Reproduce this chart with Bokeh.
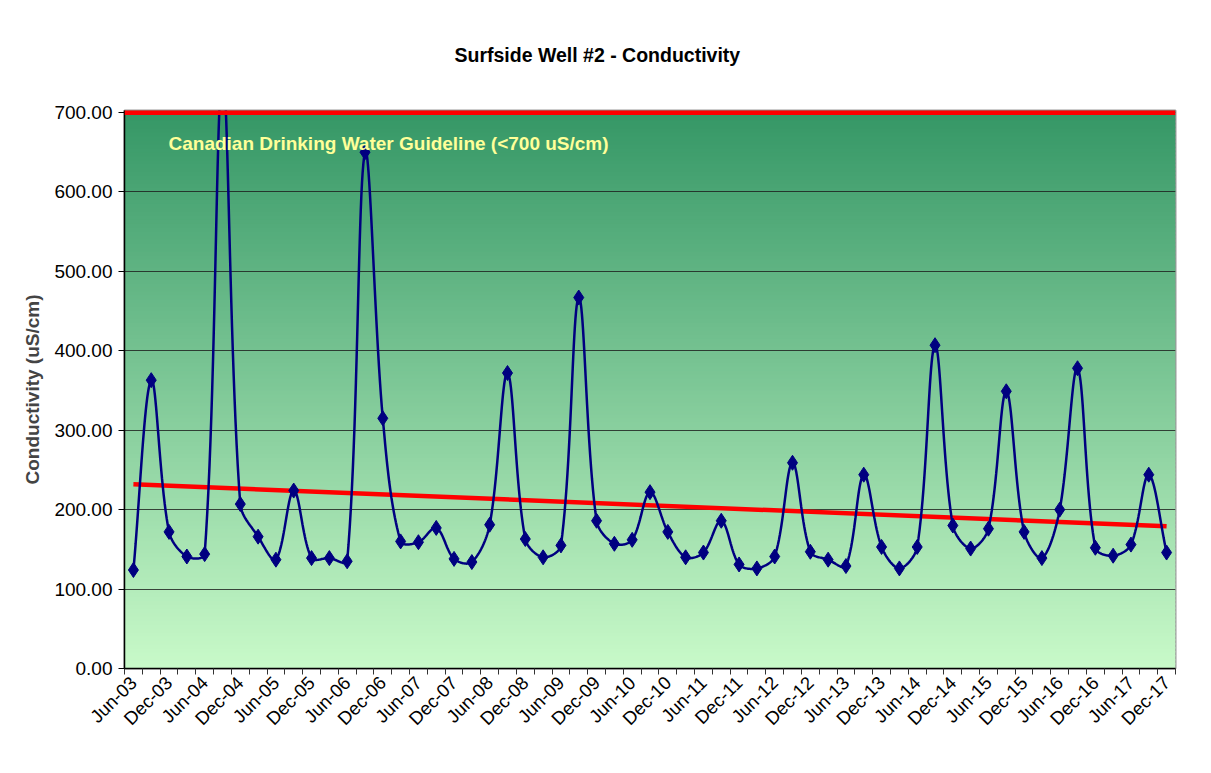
import numpy as np
from bokeh.plotting import figure
from bokeh.models import Range1d, FixedTicker, NumeralTickFormatter, Span, Label
from bokeh.embed import file_html
from bokeh.resources import INLINE

# ---- data ----
quarters = [
    "Jun-03", "Sep-03", "Dec-03",
    "Mar-04", "Jun-04", "Sep-04", "Dec-04",
    "Mar-05", "Jun-05", "Sep-05", "Dec-05",
    "Mar-06", "Jun-06", "Sep-06", "Dec-06",
    "Mar-07", "Jun-07", "Sep-07", "Dec-07",
    "Mar-08", "Jun-08", "Sep-08", "Dec-08",
    "Mar-09", "Jun-09", "Sep-09", "Dec-09",
    "Mar-10", "Jun-10", "Sep-10", "Dec-10",
    "Mar-11", "Jun-11", "Sep-11", "Dec-11",
    "Mar-12", "Jun-12", "Sep-12", "Dec-12",
    "Mar-13", "Jun-13", "Sep-13", "Dec-13",
    "Mar-14", "Jun-14", "Sep-14", "Dec-14",
    "Mar-15", "Jun-15", "Sep-15", "Dec-15",
    "Mar-16", "Jun-16", "Sep-16", "Dec-16",
    "Mar-17", "Jun-17", "Sep-17", "Dec-17",
]
conductivity = [
    124, 363, 172,
    141, 144, 750, 207,
    166, 137, 224, 139,
    139, 135, 650, 315,
    160, 159, 177, 138,
    134, 181, 372, 163,
    140, 155, 467, 186,
    157, 162, 222, 172,
    140, 146, 186, 131,
    126, 141, 259, 147,
    137, 129, 244, 153,
    126, 153, 407, 180,
    151, 176, 349, 172,
    139, 200, 378, 152,
    142, 156, 244, 146,
]
guideline = 700
trend_start, trend_end = 232, 179
yticks = [0, 100, 200, 300, 400, 500, 600, 700]

n = len(quarters)
xs = np.arange(n, dtype=float)
ys = np.array(conductivity, dtype=float)

# plot geometry (pixels)
W, H = 1195, 757
LEFT, RIGHT, TOP, BOTTOM = 124, W - 1175, 110, H - 668
YMAX = 702.5
XPX = (1175 - 124) / n
YPX = (668 - 110) / YMAX


def excel_smooth(x, y, steps=24):
    P = np.column_stack([x * XPX, y * YPX])
    out = [P[0]]
    m = len(P)
    for i in range(m - 1):
        p0 = P[i - 1] if i > 0 else P[i]
        p1 = P[i]
        p2 = P[i + 1]
        p3 = P[i + 2] if i + 2 < m else P[i + 1]
        d01 = np.hypot(*(p1 - p0))
        d12 = np.hypot(*(p2 - p1))
        d23 = np.hypot(*(p3 - p2))
        f1 = d12 / (d01 + d12) / 3.0 if (d01 + d12) > 0 else 0
        f2 = d12 / (d12 + d23) / 3.0 if (d12 + d23) > 0 else 0
        c1 = p1 + (p2 - p0) * f1
        c2 = p2 - (p3 - p1) * f2
        t = np.linspace(0, 1, steps + 1)[1:][:, None]
        seg = ((1 - t) ** 3) * p1 + 3 * ((1 - t) ** 2) * t * c1 + 3 * (1 - t) * t ** 2 * c2 + t ** 3 * p2
        out.extend(seg)
    out = np.array(out)
    return out[:, 0] / XPX, out[:, 1] / YPX


sx, sy = excel_smooth(xs, ys)

FONT = "Liberation Sans"

p = figure(width=W, height=H, output_backend="svg", toolbar_location=None,
           x_range=Range1d(-0.5, n - 0.5), y_range=Range1d(0, YMAX),
           min_border_left=LEFT, min_border_right=RIGHT, min_border_top=TOP, min_border_bottom=BOTTOM)
p.title.text = "Surfside Well #2 - Conductivity"
p.title.align = "left"
p.title.vertical_align = "top"
p.title.text_font = FONT
p.title.text_font_style = "bold"
p.title.text_font_size = "19.5px"
p.title.text_color = "black"
p.title.standoff = 85
p.title.offset = 330
p.background_fill_color = "#c8f8c8"
p.border_fill_color = "white"
p.outline_line_color = "#999999"
p.outline_line_width = 2

# gradient background as bands
nb = 140
edges = np.linspace(0, 700, nb + 1)
top_c = np.array([53, 151, 102])
bot_c = np.array([201, 250, 201])
cols = []
for k in range(nb):
    f = (edges[k] + edges[k + 1]) / 2 / 700.0
    c = bot_c + (top_c - bot_c) * f
    cols.append("#%02x%02x%02x" % tuple(int(round(v)) for v in c))
tops = edges[1:] + 2.0
tops[-1] = YMAX
p.quad(left=-0.5, right=n - 0.5, bottom=edges[:-1], top=tops, fill_color=cols,
       line_color=None, level="image")

# grid
p.xgrid.grid_line_color = None
p.ygrid.grid_line_color = "#1a1a1a"
p.ygrid.grid_line_alpha = 0.8
p.ygrid.grid_line_width = 1
p.ygrid.level = "underlay"

# axes
p.yaxis.ticker = FixedTicker(ticks=yticks)
p.yaxis.formatter = NumeralTickFormatter(format="0.00")
p.yaxis.axis_label = "Conductivity (uS/cm)"
p.yaxis.axis_label_text_font = FONT
p.yaxis.axis_label_text_font_style = "bold"
p.yaxis.axis_label_text_font_size = "19px"
p.yaxis.axis_label_standoff = 8
p.yaxis.major_label_text_font = FONT
p.yaxis.major_label_text_font_size = "19px"
p.yaxis.major_label_text_color = "black"
p.yaxis.major_label_standoff = 6
p.yaxis.major_tick_out = 6
p.yaxis.major_tick_in = 0
p.yaxis.minor_tick_line_color = None
p.yaxis.axis_line_color = "black"
p.yaxis.axis_line_width = 1.5
p.yaxis.major_tick_line_color = "black"

label_ticks = list(range(0, n, 2))
p.xaxis.ticker = FixedTicker(ticks=label_ticks, minor_ticks=[i - 0.5 for i in range(n + 1)])
p.xaxis.major_label_overrides = {i: quarters[i] for i in label_ticks}
p.xaxis.major_label_orientation = np.pi / 4
p.xaxis.major_label_text_font = FONT
p.xaxis.major_label_text_font_size = "18.5px"
p.xaxis.major_label_text_color = "black"
p.xaxis.major_label_standoff = 5
p.xaxis.major_tick_out = 0
p.xaxis.major_tick_in = 0
p.xaxis.minor_tick_out = 6
p.xaxis.minor_tick_in = 0
p.xaxis.minor_tick_line_color = "#333333"
p.xaxis.axis_line_color = "black"
p.xaxis.axis_line_width = 1.5

# trend line
p.line(x=[xs[0], xs[-1]], y=[trend_start, trend_end], line_color="red", line_width=4.5)

# data
p.line(sx, sy, line_color="#000080", line_width=2.5)
p.scatter(xs, ys, marker="diamond", size=15, fill_color="#000080", line_color="#000080")

# guideline
p.add_layout(Span(location=guideline, dimension="width", line_color="red", line_width=5))

p.add_layout(Label(x=1.97, y=661, text="Canadian Drinking Water Guideline (<700 uS/cm)",
                   text_font=FONT, text_font_style="bold", text_font_size="19px",
                   text_color="#ffff99", text_baseline="middle", text_align="left"))

open("out.html", "w").write(file_html(p, INLINE))
